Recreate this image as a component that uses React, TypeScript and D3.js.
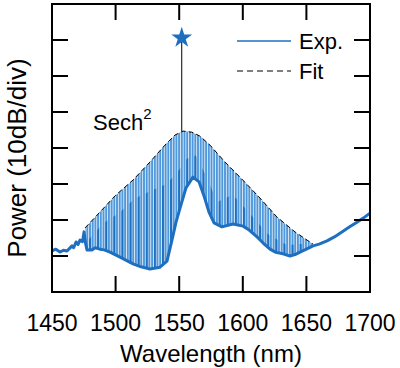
import * as React from 'react';
import * as d3 from 'd3';

const xTicks = [1450, 1500, 1550, 1600, 1650, 1700];
const yTicks = [10, 20, 30, 40, 50, 60, 70];

// measured spectrum, lower trace (nm / dB above frame bottom)
const traceWl = [1450, 1453, 1456.3, 1459, 1461.8, 1464, 1465.7, 1467, 1468.9, 1470.5, 1472, 1474, 1475.2, 1476.4, 1477.5, 1481.4, 1484, 1487.7, 1491, 1495.6, 1503.5, 1513.7, 1520, 1527, 1534.9, 1540.4, 1544.3, 1547.5, 1551.4, 1555.3, 1560.8, 1565.6, 1569.5, 1573.4, 1577.4, 1583.6, 1592.3, 1600.2, 1605, 1611.2, 1616, 1621.4, 1626, 1631.6, 1637.1, 1641, 1645, 1650, 1655.2, 1660, 1666.2, 1672, 1678.8, 1684, 1689.8, 1695, 1700];
const traceDb = [11.4, 11.9, 11.1, 11.6, 11.4, 12.2, 12.8, 12.3, 13.9, 13.2, 14.4, 14.0, 16.7, 13.5, 11.7, 11.7, 12.3, 11.9, 11.7, 11.1, 9.7, 7.8, 7.0, 6.4, 6.9, 8.6, 14.4, 19.4, 24.2, 28.9, 31.9, 30.6, 26.7, 22.2, 19.2, 18.1, 18.9, 18.3, 17.2, 15.3, 13.6, 11.9, 11.0, 10.6, 10.0, 10.4, 11.1, 11.9, 12.8, 13.3, 14.2, 15.3, 16.9, 18.1, 19.4, 20.6, 21.9];

// sech^2 fit envelope
const fitWl = [1476, 1487.7, 1499.5, 1513.7, 1527, 1538.8, 1546.7, 1553, 1560, 1566.3, 1574.2, 1586, 1600, 1613.5, 1626.9, 1641, 1655.2];
const fitDb = [17.8, 22.2, 26.7, 31.1, 36.1, 40.8, 43.6, 44.7, 44.4, 43.3, 40.8, 36.1, 31.1, 26.1, 20.8, 16.7, 13.3];

// how high the darker comb lines reach above the trace
const darkWl = [1477.5, 1490, 1503, 1515, 1527, 1540, 1548, 1556, 1563, 1570, 1580, 1592, 1605, 1620, 1635, 1650];
const darkDb = [14, 19, 22, 26, 28, 30, 33, 37, 38, 33, 25, 27, 22, 16, 13, 13.5];

// star marking the peak
const starWl = 1552;
const starDb = 70.6;

const W = 400, H = 368;
const left = 52, right = 370, top = 4, bottom = 292;
const blue = '#1f6fc0';
const light = '#4f98db';
const font = '"Liberation Sans", Arial, sans-serif';

const App: React.FC = () => {
  const x = d3.scaleLinear().domain([1450, 1700]).range([left, right]);
  const y = d3.scaleLinear().domain([0, 80]).range([bottom, top]);

  const trace = traceWl.map((w, i) => [w, traceDb[i]] as [number, number]);
  const fit = fitWl.map((w, i) => [w, fitDb[i]] as [number, number]);
  const dark = darkWl.map((w, i) => [w, darkDb[i]] as [number, number]);
  const line = d3.line<[number, number]>().x(d => x(d[0])).y(d => y(d[1]));

  // comb region between fit envelope and the lower trace
  const lower = trace.filter(d => d[0] >= fitWl[0] && d[0] <= fitWl[fitWl.length - 1]).reverse();
  const comb = line([...fit, ...lower]) + 'Z';
  const lowerDark = trace.filter(d => d[0] >= darkWl[0] && d[0] <= darkWl[darkWl.length - 1]).reverse();
  const combDark = line([...dark, ...lowerDark]) + 'Z';

  const star = d3.symbol().type(d3.symbolStar).size(136)();
  const tl = 16;

  return (
    <svg width={W} height={H} style={{ position: 'absolute', left: 0, top: 0, background: '#fff' }}>
      <defs>
        <pattern id="teeth" patternUnits="userSpaceOnUse" width={2.7} height={10}>
          <rect x={0} y={0} width={2} height={10} fill={light} />
        </pattern>
        <pattern id="teethDark" patternUnits="userSpaceOnUse" width={8.1} height={10}>
          <rect x={0} y={0} width={2} height={10} fill={blue} />
        </pattern>
      </defs>

      <path d={comb} fill="url(#teeth)" />
      <path d={combDark} fill="url(#teethDark)" />
      <path d={line(trace)!} fill="none" stroke={blue} strokeWidth={3} strokeLinejoin="round" />
      <path d={line(fit)!} fill="none" stroke="#000" strokeWidth={1} strokeDasharray="5,3" />

      <line x1={x(starWl)} x2={x(starWl)} y1={y(starDb)} y2={y(fitDb[7])} stroke="#000" strokeWidth={1} />
      <path d={star!} transform={`translate(${x(starWl)},${y(starDb)})`} fill={blue} />

      {/* frame and ticks */}
      <rect x={left} y={top} width={right - left} height={bottom - top} fill="none" stroke="#000" strokeWidth={2} />
      {xTicks.slice(1, -1).map(t => (
        <g key={t}>
          <line x1={x(t)} x2={x(t)} y1={bottom} y2={bottom - tl} stroke="#000" strokeWidth={2} />
          <line x1={x(t)} x2={x(t)} y1={top} y2={top + tl} stroke="#000" strokeWidth={2} />
        </g>
      ))}
      {yTicks.map(t => (
        <g key={t}>
          <line x1={left} x2={left + tl} y1={y(t)} y2={y(t)} stroke="#000" strokeWidth={2} />
          <line x1={right} x2={right - tl} y1={y(t)} y2={y(t)} stroke="#000" strokeWidth={2} />
        </g>
      ))}
      {xTicks.map(t => (
        <text key={t} x={x(t)} y={331} textAnchor="middle" fontFamily={font} fontSize={23}>{t}</text>
      ))}
      <text x={(left + right) / 2} y={362} textAnchor="middle" fontFamily={font} fontSize={24}>Wavelength (nm)</text>
      <text transform={`translate(26,${(top + bottom) / 2 + 10}) rotate(-90)`} textAnchor="middle" fontFamily={font} fontSize={26}>Power (10dB/div)</text>

      {/* legend */}
      <line x1={237} x2={291} y1={41} y2={41} stroke={blue} strokeWidth={1.5} />
      <text x={299} y={49} fontFamily={font} fontSize={22}>Exp.</text>
      <line x1={237} x2={291} y1={71} y2={71} stroke="#000" strokeWidth={1.2} strokeDasharray="6,4" />
      <text x={299} y={79} fontFamily={font} fontSize={22}>Fit</text>

      <text x={93} y={130} fontFamily={font} fontSize={22}>Sech<tspan fontSize={15} dy={-11}>2</tspan></text>
    </svg>
  );
};

export default App;
